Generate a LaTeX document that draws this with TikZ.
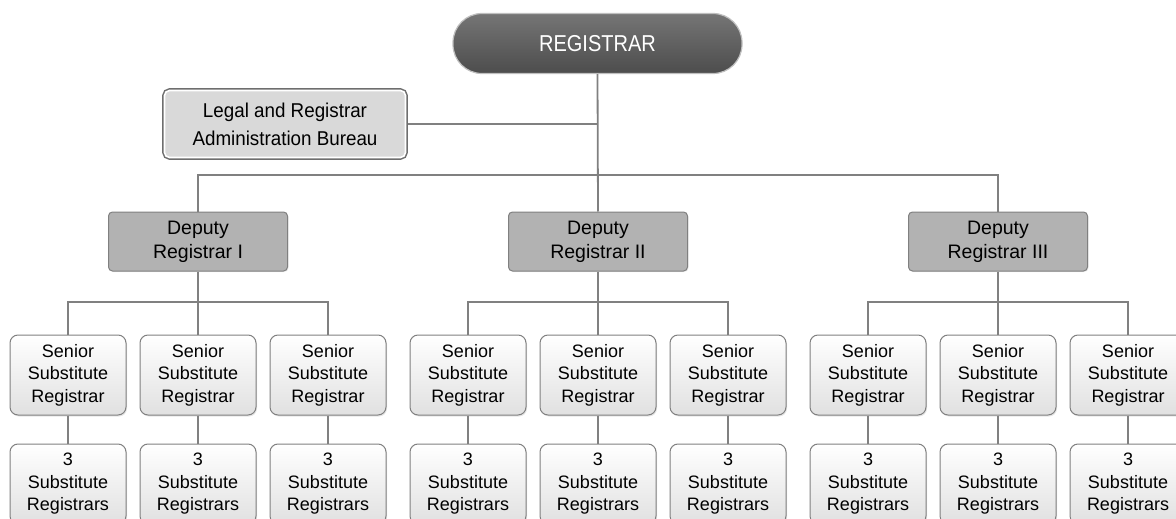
\documentclass[tikz,border=0pt]{standalone}
\usepackage{fontspec}
\setmainfont{Liberation Sans}
\newfontfamily\headfont[FakeStretch=0.87]{Liberation Sans}
\newfontfamily\narrowfont[FakeStretch=0.94]{Liberation Sans}
\usetikzlibrary{shadows}
\definecolor{wire}{HTML}{808080}
\definecolor{edgegray}{HTML}{6E6E6E}
\begin{document}
\begin{tikzpicture}[x=1pt,y=-1pt,
  wire/.style={draw=wire,line width=1.8pt},
  topbox/.style={rectangle,rounded corners=29pt,minimum width=289pt,minimum height=60pt,
    inner sep=0pt,top color=black!54,bottom color=black!70,draw=black!25,line width=1.2pt,
    text=white,font=\headfont\fontsize{23}{26}\selectfont},
  bureau/.style={rectangle,rounded corners=5pt,minimum width=241pt,minimum height=67pt,
    inner sep=0pt,preaction={draw=edgegray,line width=4.6pt},
    fill=black!15,draw=white,line width=1.6pt,align=center,
    font=\narrowfont\fontsize{20}{28}\selectfont},
  deputybox/.style={rectangle,rounded corners=4pt,minimum width=179pt,minimum height=59pt,
    inner sep=0pt,fill=black!30,draw=black!50,line width=1pt,align=center,
    font=\fontsize{19.5}{24}\selectfont,
    drop shadow={opacity=0.15,shadow xshift=1pt,shadow yshift=-1pt}},
  staffbox/.style={rectangle,rounded corners=8pt,minimum width=116pt,minimum height=80pt,
    inner sep=0pt,top color=white,bottom color=black!12,draw=black!50,line width=1pt,align=center,
    font=\fontsize{18}{22.5}\selectfont,
    drop shadow={opacity=0.2,shadow xshift=1pt,shadow yshift=-1.5pt}}
]
\useasboundingbox (0,0) rectangle (1176,519);

% head of the office
\node[topbox] (reg) at (597.5,43.5) {REGISTRAR};
\node[bureau] (legal) at (285,124) {Legal and Registrar\\Administration Bureau};

% deputies
\node[deputybox] (d1) at (198,241.5) {Deputy\\Registrar I};
\node[deputybox] (d2) at (598,241.5) {Deputy\\Registrar II};
\node[deputybox] (d3) at (998,241.5) {Deputy\\Registrar III};

\coordinate (bus) at (598,175);
\draw[wire] (reg.south) -- (d2.north);
\draw[wire] (d1.north) |- (bus);
\draw[wire] (d3.north) |- (bus);
\draw[wire] ([xshift=2pt]legal.east) -- (legal.east -| reg.south);

% senior substitute registrars and their substitutes
\foreach \g/\cx in {1/198,2/598,3/998}{
  \coordinate (j\g) at (\cx,302);
  \foreach \k/\dx in {1/-130,2/0,3/130}{
    \node[staffbox] (s\g\k) at (\cx+\dx,375) {Senior\\Substitute\\Registrar};
    \node[staffbox] (t\g\k) at (\cx+\dx,484) {3\\Substitute\\Registrars};
    \draw[wire] (s\g\k.south) -- (t\g\k.north);
  }
  \draw[wire] (d\g.south) -- (s\g2.north);
  \draw[wire] (s\g1.north) |- (j\g);
  \draw[wire] (s\g3.north) |- (j\g);
}
\end{tikzpicture}
\end{document}
